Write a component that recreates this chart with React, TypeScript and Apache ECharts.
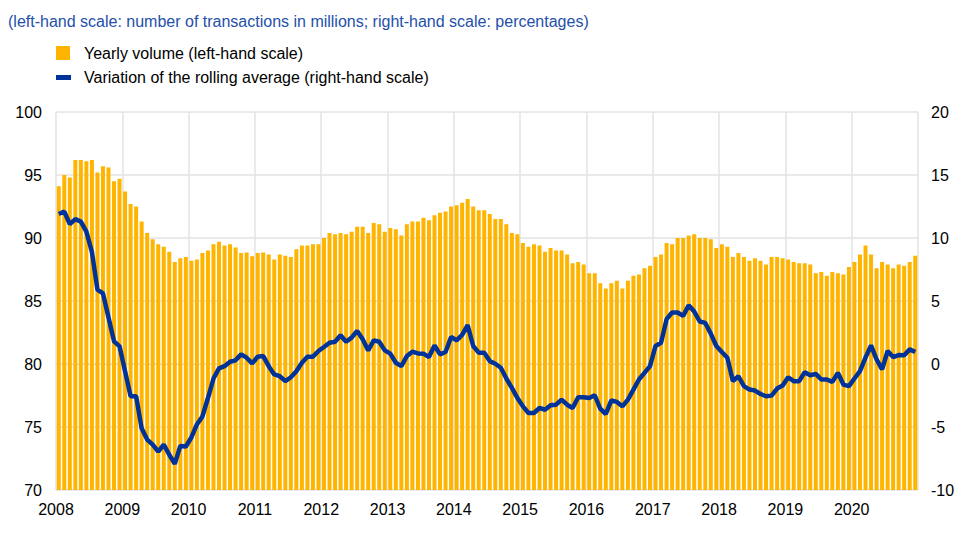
import React, { useEffect, useRef } from "react";
import * as echarts from "echarts";

const yearLabels = ["2008", "2009", "2010", "2011", "2012", "2013", "2014", "2015", "2016", "2017", "2018", "2019", "2020"];

// Yearly volume (left-hand scale), monthly Jan 2008 - Dec 2020
const volume2008 = [94.1, 95.0, 94.8, 96.2, 96.2, 96.1, 96.2, 95.2, 95.7, 95.6, 94.5, 94.7];
const volume2009 = [93.7, 92.7, 92.5, 91.3, 90.4, 89.9, 89.5, 89.3, 88.9, 88.1, 88.4, 88.5];
const volume2010 = [88.2, 88.3, 88.8, 89.0, 89.5, 89.7, 89.4, 89.5, 89.25, 88.8, 88.85, 88.55];
const volume2011 = [88.8, 88.85, 88.7, 88.3, 88.7, 88.6, 88.5, 89.1, 89.4, 89.4, 89.5, 89.5];
const volume2012 = [90.0, 90.4, 90.3, 90.4, 90.3, 90.5, 90.9, 90.9, 90.4, 91.2, 91.1, 90.5];
const volume2013 = [90.8, 90.7, 90.2, 91.1, 91.3, 91.3, 91.6, 91.4, 91.8, 92.0, 92.1, 92.5];
const volume2014 = [92.6, 92.8, 93.1, 92.5, 92.2, 92.2, 91.9, 91.5, 91.5, 91.1, 90.4, 90.3];
const volume2015 = [89.6, 89.3, 89.5, 89.4, 88.9, 89.2, 89.0, 89.0, 88.7, 88.0, 88.1, 87.9];
const volume2016 = [87.2, 87.2, 86.4, 86.0, 86.4, 86.6, 86.0, 86.6, 87.0, 87.1, 87.6, 87.8];
const volume2017 = [88.5, 88.7, 89.6, 89.5, 90.0, 90.0, 90.2, 90.3, 90.0, 90.0, 89.9, 89.2];
const volume2018 = [89.5, 89.3, 88.5, 88.8, 88.5, 88.2, 88.4, 88.2, 87.9, 88.5, 88.5, 88.4];
const volume2019 = [88.3, 88.1, 88.0, 88.0, 87.9, 87.2, 87.3, 87.0, 87.3, 87.2, 87.1, 87.7];
const volume2020 = [88.1, 88.7, 89.4, 88.7, 87.6, 88.1, 87.9, 87.6, 87.9, 87.8, 88.1, 88.6];

// Variation of the rolling average (right-hand scale)
const rolling2008 = [11.9, 12.1, 11.1, 11.5, 11.3, 10.5, 8.9, 5.9, 5.6, 3.7, 1.8, 1.4];
const rolling2009 = [-0.57, -2.56, -2.56, -5.1, -6.0, -6.4, -6.95, -6.4, -7.2, -7.93, -6.5, -6.55];
const rolling2010 = [-5.83, -4.8, -4.16, -2.7, -1.15, -0.35, -0.17, 0.18, 0.29, 0.77, 0.5, 0.05];
const rolling2011 = [0.58, 0.63, -0.17, -0.83, -0.97, -1.36, -1.05, -0.57, 0.1, 0.58, 0.58, 1.03];
const rolling2012 = [1.35, 1.69, 1.77, 2.28, 1.77, 2.09, 2.63, 1.96, 1.08, 1.88, 1.77, 1.08];
const rolling2013 = [0.82, 0.1, -0.17, 0.63, 0.98, 0.84, 0.82, 0.55, 1.48, 0.76, 0.95, 2.15];
const rolling2014 = [1.88, 2.31, 3.08, 1.43, 0.9, 0.9, 0.23, 0.02, -0.3, -1.15, -1.9, -2.7];
const rolling2015 = [-3.36, -3.89, -3.89, -3.49, -3.63, -3.28, -3.23, -2.83, -3.23, -3.49, -2.64, -2.64];
const rolling2016 = [-2.7, -2.48, -3.55, -3.97, -2.88, -3.01, -3.36, -2.83, -2.03, -1.23, -0.7, -0.17];
const rolling2017 = [1.43, 1.69, 3.56, 4.09, 4.09, 3.82, 4.67, 4.17, 3.37, 3.26, 2.41, 1.43];
const rolling2018 = [0.95, 0.5, -1.36, -0.97, -1.76, -2.03, -2.11, -2.38, -2.56, -2.51, -1.95, -1.71];
const rolling2019 = [-1.05, -1.36, -1.36, -0.65, -0.89, -0.78, -1.23, -1.23, -1.42, -0.7, -1.63, -1.76];
const rolling2020 = [-1.15, -0.57, 0.5, 1.48, 0.36, -0.43, 1.03, 0.55, 0.71, 0.69, 1.16, 0.95];

const leftTicks = [70, 100, 5];
const rightTicks = [-10, 20, 5];

const volume = [
  ...volume2008, ...volume2009, ...volume2010, ...volume2011, ...volume2012, ...volume2013, ...volume2014,
  ...volume2015, ...volume2016, ...volume2017, ...volume2018, ...volume2019, ...volume2020,
];
const rolling = [
  ...rolling2008, ...rolling2009, ...rolling2010, ...rolling2011, ...rolling2012, ...rolling2013, ...rolling2014,
  ...rolling2015, ...rolling2016, ...rolling2017, ...rolling2018, ...rolling2019, ...rolling2020,
];

const ORANGE = "#FFB400";
const BLUE = "#003399";
const FONT = "Liberation Sans, Arial, sans-serif";

export default function App() {
  const ref = useRef<HTMLDivElement>(null);
  useEffect(() => {
    if (!ref.current) return;
    const chart = echarts.init(ref.current, undefined, { renderer: "svg" });
    const nMonths = volume.length;
    chart.setOption({
      animation: false,
      textStyle: { fontFamily: FONT },
      grid: { left: 56, right: 50, top: 112, bottom: 43, containLabel: false },
      graphic: [
        {
          type: "text",
          x: 8,
          y: 21,
          style: {
            text: "(left-hand scale: number of transactions in millions; right-hand scale: percentages)",
            fill: "#2450ab",
            font: `16px ${FONT}`,
            verticalAlign: "middle",
          },
        },
        { type: "rect", shape: { x: 56, y: 46, width: 14, height: 14 }, style: { fill: ORANGE } },
        {
          type: "text",
          x: 84,
          y: 53,
          style: { text: "Yearly volume (left-hand scale)", fill: "#000", font: `16px ${FONT}`, verticalAlign: "middle" },
        },
        { type: "rect", shape: { x: 56, y: 75, width: 15, height: 5 }, style: { fill: BLUE } },
        {
          type: "text",
          x: 84,
          y: 77,
          style: {
            text: "Variation of the rolling average (right-hand scale)",
            fill: "#000",
            font: `16px ${FONT}`,
            verticalAlign: "middle",
          },
        },
      ],
      xAxis: {
        type: "value",
        min: 0,
        max: nMonths,
        interval: 12,
        axisLine: { show: true, lineStyle: { color: "#d9d9d9", width: 1 } },
        axisTick: { show: false },
        splitLine: { show: true, lineStyle: { color: "#e3e3e3", width: 1.5 } },
        axisLabel: {
          color: "#000",
          fontSize: 16,
          fontFamily: FONT,
          margin: 11,
          formatter: (v: number) => yearLabels[Math.round(v / 12)] ?? "",
        },
      },
      yAxis: [
        {
          type: "value",
          min: leftTicks[0],
          max: leftTicks[1],
          interval: leftTicks[2],
          axisLine: { show: false },
          axisTick: { show: false },
          splitLine: { show: true, lineStyle: { color: "#e3e3e3", width: 1.5 } },
          axisLabel: { color: "#000", fontSize: 16, fontFamily: FONT, margin: 14 },
        },
        {
          type: "value",
          min: rightTicks[0],
          max: rightTicks[1],
          interval: rightTicks[2],
          axisLine: { show: false },
          axisTick: { show: false },
          splitLine: { show: false },
          axisLabel: { color: "#000", fontSize: 16, fontFamily: FONT, margin: 13 },
        },
      ],
      series: [
        {
          name: "Yearly volume (left-hand scale)",
          type: "bar",
          yAxisIndex: 0,
          barWidth: 4,
          itemStyle: { color: ORANGE },
          data: volume.map((v, i) => [i + 0.5, v]),
        },
        {
          name: "Variation of the rolling average (right-hand scale)",
          type: "line",
          yAxisIndex: 1,
          symbol: "none",
          lineStyle: { color: BLUE, width: 4.5 },
          data: rolling.map((v, i) => [i + 0.5, v]),
          z: 5,
        },
      ],
    });
    return () => chart.dispose();
  }, []);
  return (
    <div
      ref={ref}
      style={{ position: "fixed", left: 0, top: 0, width: 968, height: 533, background: "#fff" }}
    />
  );
}
